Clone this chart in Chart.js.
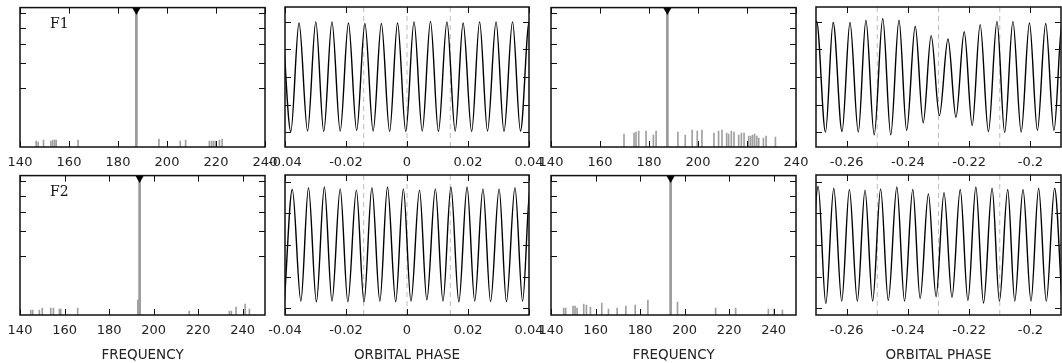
<!DOCTYPE html>
<html>
<head>
<meta charset="utf-8">
<script src="https://cdn.jsdelivr.net/npm/chart.js@4.4.0/dist/chart.umd.min.js"></script>
<style>
  body { margin: 0; background: #fff; overflow: hidden; }
  #wrap { position: relative; width: 1062px; height: 363px; }
  #wrap canvas { position: absolute; }
</style>
</head>
<body>
<div id="wrap"></div>
<script>
// tick labels
let freqTicks = [140, 160, 180, 200, 220, 240];
let phaseTicksA = [-0.04, -0.02, 0, 0.02, 0.04];
let phaseTicksB = [-0.26, -0.24, -0.22, -0.2];
let powerTicks = [0.425, 0.6, 0.74, 0.855, 0.96];
let fluxTicks = [-1, -0.5, 0, 0.5, 1];
let eclipsesA = [-0.0142, 0, 0.0142];
let eclipsesB = [-0.25, -0.23, -0.21];

// periodogram peaks
let peakF1 = 187.5;
let peakF2 = 193.7;
let markerLevel = 0.98;

let f1FreqA = [146.6, 147.4, 149.6, 152.6, 153.4, 154.2, 154.8, 163.7, 196.7, 205.4, 207.6, 217.3, 218.2, 219.0, 219.8, 221.4, 222.5];
let f1AmpA = [0.043, 0.036, 0.05, 0.043, 0.05, 0.05, 0.05, 0.05, 0.057, 0.043, 0.05, 0.043, 0.043, 0.043, 0.043, 0.05, 0.057];

let f1FreqB = [169.8, 173.9, 174.7, 175.8, 178.8, 181.8, 182.9, 191.8, 194.8, 197.6, 199.7, 201.6, 206.5, 208.4, 209.8, 211.7, 212.5, 213.6, 214.7, 216.6, 217.7, 218.8, 220.7, 221.5, 222.3, 223.1, 224.0, 224.8, 226.7, 227.8, 231.6];
let f1AmpB = [0.093, 0.1, 0.107, 0.114, 0.114, 0.086, 0.114, 0.107, 0.086, 0.121, 0.114, 0.121, 0.1, 0.114, 0.121, 0.1, 0.093, 0.114, 0.107, 0.086, 0.1, 0.1, 0.079, 0.079, 0.086, 0.093, 0.079, 0.064, 0.064, 0.079, 0.071];

let f2FreqA = [144.8, 145.7, 148.7, 150.0, 153.8, 155.0, 157.7, 158.3, 165.9, 192.9, 216.0, 234.0, 234.9, 237.0, 241.1, 243.0];
let f2AmpA = [0.036, 0.036, 0.036, 0.05, 0.05, 0.05, 0.043, 0.043, 0.05, 0.107, 0.029, 0.029, 0.029, 0.057, 0.079, 0.043];

let f2FreqB = [145.7, 146.6, 149.9, 150.8, 151.7, 154.7, 155.9, 157.7, 162.8, 165.8, 169.7, 173.6, 177.8, 183.5, 196.8, 213.9, 222.9, 237.6, 240.2, 243.9];
let f2AmpB = [0.05, 0.05, 0.064, 0.064, 0.05, 0.079, 0.071, 0.057, 0.086, 0.043, 0.05, 0.064, 0.071, 0.107, 0.093, 0.05, 0.05, 0.043, 0.043, 0.036];

// light curves: phase and flux of each maximum / minimum
let f1PeakPhaseA = [-0.0408, -0.0354, -0.0299, -0.0246, -0.0192, -0.0138, -0.0084, -0.0031, 0.0023, 0.0077, 0.0131, 0.0184, 0.0238, 0.0292, 0.0346, 0.0401];
let f1PeakFluxA = [1.0, 0.98, 1.0, 1.0, 0.98, 0.97, 0.97, 0.98, 1.0, 1.01, 1.0, 0.98, 1.0, 1.0, 1.0, 1.01];
let f1TroughPhaseA = [-0.0381, -0.0326, -0.0273, -0.0219, -0.0165, -0.0111, -0.0057, -0.0004, 0.0050, 0.0103, 0.0158, 0.0212, 0.0264, 0.0318, 0.0372, 0.0428];
let f1TroughFluxA = [-0.99, -0.98, -0.99, -0.98, -0.97, -0.98, -0.99, -0.99, -0.98, -0.99, -0.98, -0.99, -0.98, -0.99, -0.98, -0.99];

let f1PeakPhaseB = [-0.2698, -0.2644, -0.2589, -0.2537, -0.2482, -0.2429, -0.2376, -0.2324, -0.2269, -0.2216, -0.2164, -0.2109, -0.2057, -0.2003, -0.1950, -0.1896];
let f1PeakFluxB = [1.01, 0.99, 0.99, 1.03, 1.06, 1.03, 0.92, 0.75, 0.69, 0.82, 0.95, 1.01, 1.01, 0.98, 0.97, 1.01];
let f1TroughPhaseB = [-0.2727, -0.2669, -0.2615, -0.2562, -0.2510, -0.2456, -0.2404, -0.2350, -0.2297, -0.2243, -0.2190, -0.2137, -0.2084, -0.2030, -0.1977, -0.1923, -0.1869];
let f1TroughFluxB = [-1.0, -1.0, -0.99, -1.0, -1.05, -1.05, -0.97, -0.83, -0.70, -0.73, -0.88, -0.99, -1.01, -1.0, -0.97, -0.97, -0.97];

let f2PeakPhaseA = [-0.0376, -0.0323, -0.0271, -0.0219, -0.0166, -0.0115, -0.0064, -0.0012, 0.0041, 0.0093, 0.0144, 0.0197, 0.0249, 0.0302, 0.0354, 0.0404];
let f2PeakFluxA = [0.88, 0.91, 0.92, 0.89, 0.87, 0.91, 0.92, 0.89, 0.87, 0.89, 0.92, 0.92, 0.89, 0.89, 0.91, 0.93];
let f2TroughPhaseA = [-0.0402, -0.0348, -0.0297, -0.0246, -0.0194, -0.0141, -0.0089, -0.0037, 0.0013, 0.0065, 0.0118, 0.0170, 0.0222, 0.0274, 0.0326, 0.0379, 0.0430];
let f2TroughFluxA = [-0.90, -0.89, -0.90, -0.89, -0.90, -0.90, -0.89, -0.90, -0.89, -0.87, -0.89, -0.90, -0.89, -0.90, -0.90, -0.89, -0.90];

let f2PeakPhaseB = [-0.2693, -0.2642, -0.2591, -0.2540, -0.2489, -0.2436, -0.2384, -0.2333, -0.2282, -0.2229, -0.2178, -0.2125, -0.2074, -0.2024, -0.1973, -0.1921];
let f2PeakFluxB = [0.93, 0.90, 0.88, 0.87, 0.89, 0.92, 0.88, 0.81, 0.83, 0.88, 0.92, 0.90, 0.88, 0.88, 0.90, 0.90];
let f2TroughPhaseB = [-0.2718, -0.2668, -0.2616, -0.2565, -0.2515, -0.2464, -0.2411, -0.2360, -0.2308, -0.2256, -0.2204, -0.2153, -0.2101, -0.2051, -0.1998, -0.1948, -0.1897];
let f2TroughFluxB = [-0.90, -0.93, -0.89, -0.89, -0.89, -0.88, -0.89, -0.85, -0.82, -0.83, -0.88, -0.92, -0.89, -0.89, -0.89, -0.89, -0.89];

// layout
const PAD = 30;
const colLeft = [20, 285, 551, 816];
const colWidth = [245, 244, 245, 245];
const rowTop = [7, 175];
const boxH = 140;
const font = "DejaVu Sans";

// frame with inward ticks on all four sides, plus F1/F2 tag
const framePlugin = {
  id: 'frame',
  afterDatasetsDraw(chart, args, opts) {
    const { ctx, chartArea: a } = chart;
    const x = chart.scales.x, y = chart.scales.y;
    ctx.save();
    ctx.strokeStyle = '#111';
    ctx.lineWidth = 1;
    ctx.beginPath();
    opts.xTicks.forEach(function (v) {
      const px = Math.round(x.getPixelForValue(v)) + 0.5;
      ctx.moveTo(px, a.bottom); ctx.lineTo(px, a.bottom - 6);
      ctx.moveTo(px, a.top); ctx.lineTo(px, a.top + 6);
    });
    opts.yTicks.forEach(function (v) {
      const py = Math.round(y.getPixelForValue(v)) + 0.5;
      ctx.moveTo(a.left, py); ctx.lineTo(a.left + 6, py);
      ctx.moveTo(a.right, py); ctx.lineTo(a.right - 6, py);
    });
    ctx.stroke();
    ctx.lineWidth = 1.5;
    ctx.strokeRect(a.left, a.top, a.right - a.left, a.bottom - a.top);
    if (opts.label) {
      ctx.font = '14px "DejaVu Serif"';
      ctx.fillStyle = '#111';
      ctx.textBaseline = 'alphabetic';
      ctx.fillText(opts.label, a.left + 30, a.top + 20);
    }
    ctx.restore();
  }
};

function addCanvas(col, row) {
  const c = document.createElement('canvas');
  const top = rowTop[row] - 4;
  const h = row === 0 ? 4 + boxH + 32 : 363 - top;
  c.width = colWidth[col] + 2 * PAD;
  c.height = h;
  c.style.left = (colLeft[col] - PAD) + 'px';
  c.style.top = top + 'px';
  document.getElementById('wrap').appendChild(c);
  return c;
}

function xScale(min, max, ticks, title) {
  return {
    type: 'linear', min: min, max: max, offset: false,
    grid: { display: false, drawTicks: false },
    border: { display: false },
    afterBuildTicks: function (s) { s.ticks = ticks.map(function (v) { return { value: v }; }); },
    afterFit: function (s) { s.height = title ? 48 : 32; },
    ticks: {
      padding: 8, color: '#222', autoSkip: false, maxRotation: 0,
      font: { family: font, size: 13 },
      callback: function (v) { return String(v); }
    },
    title: {
      display: !!title, text: title || '', color: '#222',
      font: { family: font, size: 13.5, lineHeight: 1.05 }, padding: { top: 0, bottom: 0 }
    }
  };
}

function periodogram(col, row, freqs, amps, peak, xMax, label, title) {
  const pts = freqs.map(function (f, i) { return { x: f, y: amps[i] }; });
  new Chart(addCanvas(col, row), {
    type: 'bar',
    data: {
      datasets: [
        { type: 'line', data: [{ x: peak, y: markerLevel }], showLine: false, pointStyle: 'triangle',
          rotation: 180, pointRadius: 4.6, backgroundColor: '#000', borderColor: '#000', borderWidth: 0, clip: false, order: 0 },
        { data: [{ x: peak, y: 1 }], backgroundColor: '#9a9a9a', barThickness: 2, grouped: false, order: 1 },
        { data: pts, backgroundColor: '#a0a0a0', barThickness: 1, grouped: false, order: 2 }
      ]
    },
    options: {
      responsive: false, animation: false,
      layout: { padding: { left: PAD, right: PAD, top: 4, bottom: 0 } },
      plugins: { legend: { display: false }, tooltip: { enabled: false },
        frame: { xTicks: freqTicks, yTicks: powerTicks, label: label } },
      scales: { x: xScale(140, xMax, freqTicks, title), y: { display: false, min: 0, max: 1 } }
    },
    plugins: [framePlugin]
  });
}

function lightCurve(col, row, pX, pY, tX, tY, xMin, xMax, yLim, ticks, eclipses, title) {
  const pts = pX.map(function (x, i) { return { x: x, y: pY[i] }; })
    .concat(tX.map(function (x, i) { return { x: x, y: tY[i] }; }))
    .sort(function (a, b) { return a.x - b.x; });
  const sets = eclipses.map(function (e) {
    return { data: [{ x: e, y: -yLim }, { x: e, y: yLim }], borderColor: '#bdbdbd', borderWidth: 1,
      borderDash: [5, 4], pointRadius: 0, order: 2 };
  });
  sets.push({ data: pts, borderColor: '#000', borderWidth: 1.4, pointRadius: 0,
    cubicInterpolationMode: 'monotone', order: 1 });
  new Chart(addCanvas(col, row), {
    type: 'line',
    data: { datasets: sets },
    options: {
      responsive: false, animation: false,
      layout: { padding: { left: PAD, right: PAD, top: 4, bottom: 0 } },
      plugins: { legend: { display: false }, tooltip: { enabled: false },
        frame: { xTicks: ticks, yTicks: fluxTicks } },
      scales: { x: xScale(xMin, xMax, ticks, title), y: { display: false, min: -yLim, max: yLim } }
    },
    plugins: [framePlugin]
  });
}

periodogram(0, 0, f1FreqA, f1AmpA, peakF1, 240, 'F1', null);
lightCurve(1, 0, f1PeakPhaseA, f1PeakFluxA, f1TroughPhaseA, f1TroughFluxA, -0.04, 0.04, 1.27, phaseTicksA, eclipsesA, null);
periodogram(2, 0, f1FreqB, f1AmpB, peakF1, 240, null, null);
lightCurve(3, 0, f1PeakPhaseB, f1PeakFluxB, f1TroughPhaseB, f1TroughFluxB, -0.27, -0.19, 1.27, phaseTicksB, eclipsesB, null);

periodogram(0, 1, f2FreqA, f2AmpA, peakF2, 250, 'F2', 'FREQUENCY');
lightCurve(1, 1, f2PeakPhaseA, f2PeakFluxA, f2TroughPhaseA, f2TroughFluxA, -0.04, 0.04, 1.11, phaseTicksA, eclipsesA, 'ORBITAL PHASE');
periodogram(2, 1, f2FreqB, f2AmpB, peakF2, 250, null, 'FREQUENCY');
lightCurve(3, 1, f2PeakPhaseB, f2PeakFluxB, f2TroughPhaseB, f2TroughFluxB, -0.27, -0.19, 1.11, phaseTicksB, eclipsesB, 'ORBITAL PHASE');
</script>
</body>
</html>
